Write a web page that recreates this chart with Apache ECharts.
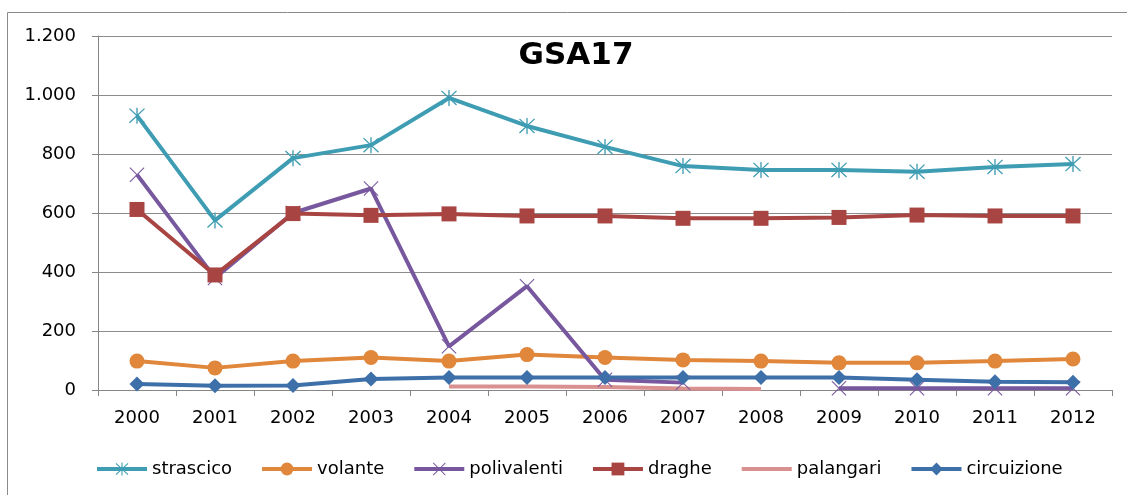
<!DOCTYPE html>
<html>
<head>
<meta charset="utf-8">
<script src="https://cdn.jsdelivr.net/npm/echarts@6/dist/echarts.min.js"></script>
<style>
  html, body { margin: 0; padding: 0; background: #fff; }
  #main { width: 1127px; height: 495px; }
</style>
</head>
<body>
<div id="main"></div>
<script>
const years = ['2000','2001','2002','2003','2004','2005','2006','2007','2008','2009','2010','2011','2012'];

const strascico   = [930, 575, 786, 830, 990, 895, 824, 759, 746, 746, 740, 756, 766];
const volante     = [98, 75, 98, 110, 98, 120, 110, 102, 98, 92, 92, 98, 105];
const polivalenti = [730, 380, 600, 683, 148, 352, 35, 25, null, 6, 6, 6, 6];
const draghe      = [612, 390, 598, 592, 597, 590, 590, 582, 582, 585, 593, 590, 590];
const palangari   = [null, null, null, null, 12, 12, 10, 5, 3, null, null, null, null];
const circuizione = [20, 14, 15, 37, 42, 42, 42, 42, 42, 42, 35, 28, 26];

// marker shapes
const asterisk = 'path://M-0.8,-10 L0.8,-10 L0.8,10 L-0.8,10 Z M-9.4,-8.3 L-8.3,-9.4 L9.4,8.3 L8.3,9.4 Z M8.3,-9.4 L9.4,-8.3 L-8.3,9.4 L-9.4,8.3 Z';
const cross = 'path://M-10,-9 L-9,-10 L10,9 L9,10 Z M9,-10 L10,-9 L-9,10 L-10,9 Z';

const FONT = 'DejaVu Sans';

function itNum(v) {
  return String(v).replace(/\B(?=(\d{3})+(?!\d))/g, '.');
}

function serie(name, data, color, symbol, size) {
  return {
    name: name,
    type: 'line',
    data: data,
    symbol: symbol,
    symbolSize: size,
    showAllSymbol: true,
    connectNulls: false,
    lineStyle: { width: 4, color: color },
    itemStyle: { color: color },
    emphasis: { disabled: true }
  };
}

let myChart = echarts.init(document.getElementById('main'));
myChart.setOption({
  animation: false,
  textStyle: { fontFamily: FONT },
  title: {
    text: 'GSA17',
    left: 571,
    top: 35,
    textAlign: 'center',
    textStyle: { fontFamily: FONT, fontSize: 31, fontWeight: 'bold', color: '#000' }
  },
  graphic: [{
    type: 'rect',
    shape: { x: 7.5, y: 12.5, width: 1140, height: 500 },
    style: { fill: 'none', stroke: '#8a8a8a', lineWidth: 1 },
    silent: true
  }],
  legend: {
    left: 90,
    top: 455,
    itemWidth: 50,
    itemHeight: 16,
    itemGap: 28,
    lineStyle: { width: 4 },
    textStyle: { fontSize: 18, color: '#000', fontFamily: FONT },
    data: ['strascico', 'volante', 'polivalenti', 'draghe',
           { name: 'palangari', itemStyle: { opacity: 0 } }, 'circuizione']
  },
  grid: { left: 98, right: 15, top: 36, bottom: 105, containLabel: false },
  xAxis: {
    type: 'category',
    data: years,
    boundaryGap: true,
    axisLine: { lineStyle: { color: '#868686', width: 1 } },
    axisTick: { show: true, alignWithLabel: false, length: 6, lineStyle: { color: '#868686' } },
    axisLabel: { fontSize: 18, color: '#000', margin: 19 }
  },
  yAxis: {
    type: 'value',
    min: 0,
    max: 1200,
    interval: 200,
    axisLine: { show: true, lineStyle: { color: '#868686', width: 1 } },
    axisTick: { show: true, length: 6, lineStyle: { color: '#868686' } },
    splitLine: { lineStyle: { color: '#8c8c8c', width: 1 } },
    axisLabel: { fontSize: 18, color: '#000', margin: 22, formatter: itNum }
  },
  series: [
    serie('strascico', strascico, '#3f9db3', asterisk, 16),
    serie('volante', volante, '#e0873c', 'circle', 15),
    serie('polivalenti', polivalenti, '#77579d', cross, 15),
    serie('draghe', draghe, '#a84442', 'rect', 15),
    serie('palangari', palangari, '#d8918f', 'none', 0),
    serie('circuizione', circuizione, '#3d6fa9', 'diamond', 15)
  ]
});
</script>
</body>
</html>
